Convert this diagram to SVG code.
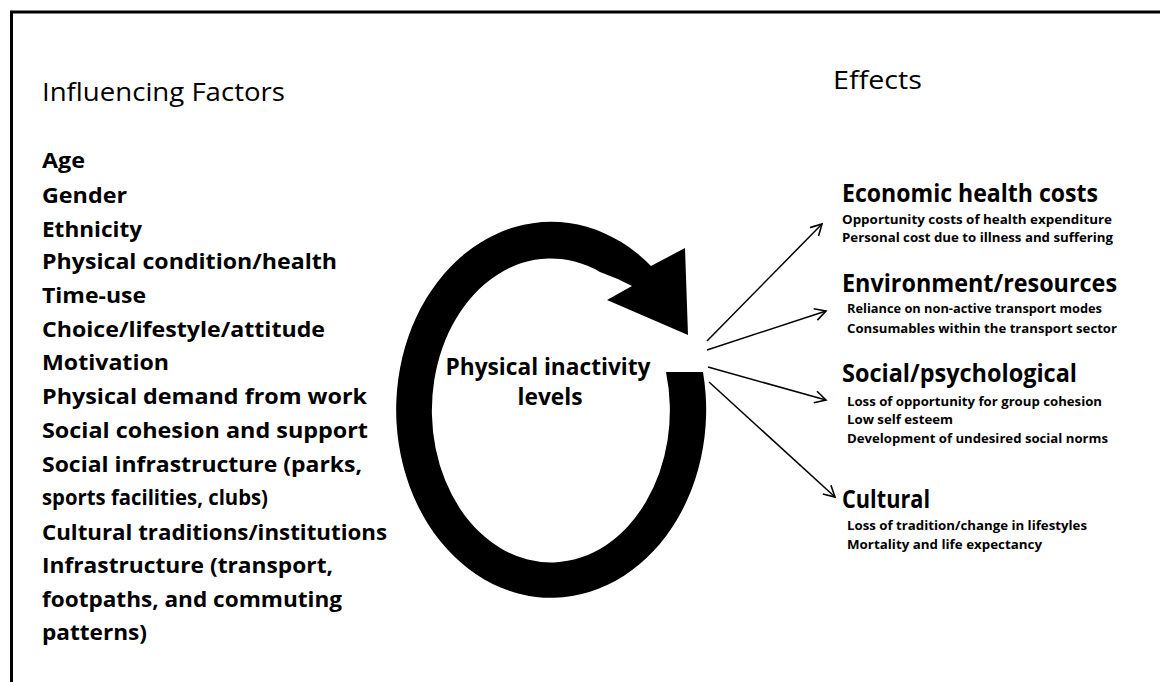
<svg xmlns="http://www.w3.org/2000/svg" width="1160" height="682" viewBox="0 0 1160 682">
  <style>
    .hd { font-family: "Open Sans", "Liberation Sans", sans-serif; font-size: 26px; fill: #000; }
    .fac { font-family: "Open Sans", "Liberation Sans", sans-serif; font-size: 20.5px; font-weight: bold; fill: #000; }
    .mid { font-family: "Open Sans", "Liberation Sans", sans-serif; font-size: 24px; font-weight: bold; fill: #000; text-anchor: middle; }
    .eff { font-family: "Open Sans", "Liberation Sans", sans-serif; font-size: 24.5px; font-weight: bold; fill: #000; }
    .sub { font-family: "Open Sans", "Liberation Sans", sans-serif; font-size: 12.5px; font-weight: bold; fill: #000; }
    .link { fill: none; stroke: #000; stroke-width: 1.5; }
  </style>
  <defs>
    <marker id="open" viewBox="-13 -8 15 16" markerWidth="15" markerHeight="16" refX="0" refY="0" orient="auto" markerUnits="userSpaceOnUse">
      <path d="M-11,-6 L0,0 L-11,6" fill="none" stroke="#000" stroke-width="1.6"/>
    </marker>
  </defs>
  <rect width="1160" height="682" fill="#fff"/>

  <!-- frame -->
  <g id="frame" fill="none" stroke="#000" stroke-width="3">
    <path d="M11.5 682 V12 H1160"/>
  </g>

  <!-- influencing factors -->
  <g id="factors">
    <text class="hd" x="42" y="101" textLength="243" lengthAdjust="spacingAndGlyphs">Influencing Factors</text>
    <text class="fac" x="42" y="168" textLength="43" lengthAdjust="spacingAndGlyphs">Age</text>
    <text class="fac" x="42" y="203" textLength="85" lengthAdjust="spacingAndGlyphs">Gender</text>
    <text class="fac" x="42" y="237" textLength="100" lengthAdjust="spacingAndGlyphs">Ethnicity</text>
    <text class="fac" x="42" y="269" textLength="295" lengthAdjust="spacingAndGlyphs">Physical condition/health</text>
    <text class="fac" x="42" y="303" textLength="104" lengthAdjust="spacingAndGlyphs">Time-use</text>
    <text class="fac" x="42" y="337" textLength="283" lengthAdjust="spacingAndGlyphs">Choice/lifestyle/attitude</text>
    <text class="fac" x="42" y="370" textLength="127" lengthAdjust="spacingAndGlyphs">Motivation</text>
    <text class="fac" x="42" y="404" textLength="325" lengthAdjust="spacingAndGlyphs">Physical demand from work</text>
    <text class="fac" x="42" y="438" textLength="326" lengthAdjust="spacingAndGlyphs">Social cohesion and support</text>
    <text class="fac" x="42" y="472" textLength="320" lengthAdjust="spacingAndGlyphs">Social infrastructure (parks,</text>
    <text class="fac" x="42" y="505" textLength="226" lengthAdjust="spacingAndGlyphs">sports facilities, clubs)</text>
    <text class="fac" x="42" y="540" textLength="345" lengthAdjust="spacingAndGlyphs">Cultural traditions/institutions</text>
    <text class="fac" x="42" y="573" textLength="291" lengthAdjust="spacingAndGlyphs">Infrastructure (transport,</text>
    <text class="fac" x="42" y="607" textLength="300" lengthAdjust="spacingAndGlyphs">footpaths, and commuting</text>
    <text class="fac" x="42" y="640" textLength="105" lengthAdjust="spacingAndGlyphs">patterns)</text>
  </g>

  <!-- central cycle: thick ring with arrowhead -->
  <g id="cycle">
    <path d="M703 372 A155 188 0 1 1 651 266 L685 248 L688 335 L607 300 L632 286 Q617 278 600 272 A119 152 0 1 0 666 372 Z" fill="#000"/>
    <text class="mid" x="548" y="375" textLength="205" lengthAdjust="spacingAndGlyphs">Physical inactivity</text>
    <text class="mid" x="550" y="405" textLength="65" lengthAdjust="spacingAndGlyphs">levels</text>
  </g>

  <!-- effects -->
  <g id="effects-title">
    <text class="hd" x="833" y="89" textLength="89" lengthAdjust="spacingAndGlyphs">Effects</text>
  </g>
  <g id="economic">
    <text class="eff" x="842" y="202" textLength="256" lengthAdjust="spacingAndGlyphs">Economic health costs</text>
    <text class="sub" x="842" y="224" textLength="270" lengthAdjust="spacingAndGlyphs">Opportunity costs of health expenditure</text>
    <text class="sub" x="842" y="242" textLength="271" lengthAdjust="spacingAndGlyphs">Personal cost due to illness and suffering</text>
  </g>
  <g id="environment">
    <text class="eff" x="842" y="292" textLength="275" lengthAdjust="spacingAndGlyphs">Environment/resources</text>
    <text class="sub" x="847" y="313" textLength="255" lengthAdjust="spacingAndGlyphs">Reliance on non-active transport modes</text>
    <text class="sub" x="847" y="333" textLength="270" lengthAdjust="spacingAndGlyphs">Consumables within the transport sector</text>
  </g>
  <g id="social">
    <text class="eff" x="842" y="382" textLength="235" lengthAdjust="spacingAndGlyphs">Social/psychological</text>
    <text class="sub" x="847" y="406" textLength="255" lengthAdjust="spacingAndGlyphs">Loss of opportunity for group cohesion</text>
    <text class="sub" x="847" y="424" textLength="106" lengthAdjust="spacingAndGlyphs">Low self esteem</text>
    <text class="sub" x="847" y="443" textLength="261" lengthAdjust="spacingAndGlyphs">Development of undesired social norms</text>
  </g>
  <g id="cultural">
    <text class="eff" x="842" y="508" textLength="88" lengthAdjust="spacingAndGlyphs">Cultural</text>
    <text class="sub" x="847" y="530" textLength="240" lengthAdjust="spacingAndGlyphs">Loss of tradition/change in lifestyles</text>
    <text class="sub" x="847" y="549" textLength="195" lengthAdjust="spacingAndGlyphs">Mortality and life expectancy</text>
  </g>

  <!-- connectors -->
  <g id="connectors" class="link">
    <line x1="707" y1="341" x2="822" y2="224" marker-end="url(#open)"/>
    <line x1="707" y1="350" x2="826" y2="311" marker-end="url(#open)"/>
    <line x1="708" y1="367" x2="826" y2="400" marker-end="url(#open)"/>
    <line x1="709" y1="382" x2="835" y2="497" marker-end="url(#open)"/>
  </g>
</svg>
